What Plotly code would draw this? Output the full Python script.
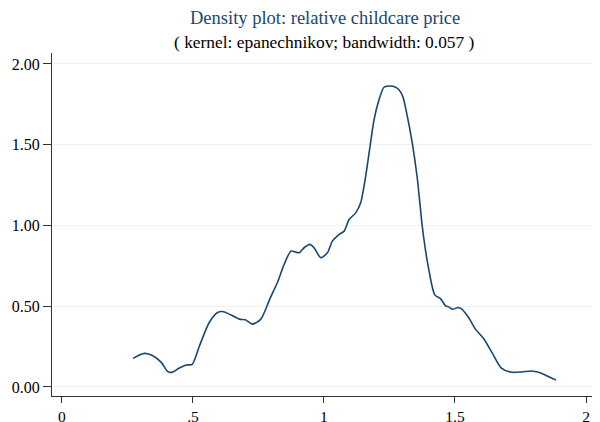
import plotly.graph_objects as go

# Density estimate (x = relative childcare price, y = density)
price = [0.271, 0.315, 0.347, 0.379, 0.404, 0.421, 0.448, 0.474, 0.497, 0.525,
         0.562, 0.594, 0.613, 0.645, 0.677, 0.700, 0.727, 0.759, 0.794, 0.823,
         0.848, 0.874, 0.905, 0.924, 0.946, 0.962, 0.988, 1.013, 1.032, 1.057,
         1.077, 1.096, 1.121, 1.140, 1.159, 1.174, 1.191, 1.210, 1.229, 1.254,
         1.267, 1.286, 1.301, 1.317, 1.337, 1.356, 1.375, 1.387, 1.400, 1.423,
         1.445, 1.464, 1.476, 1.491, 1.512, 1.527, 1.552, 1.578, 1.609, 1.641,
         1.677, 1.717, 1.755, 1.793, 1.819, 1.844, 1.885]
density = [0.177, 0.208, 0.193, 0.152, 0.095, 0.091, 0.117, 0.136, 0.140, 0.255,
           0.399, 0.461, 0.467, 0.446, 0.420, 0.416, 0.389, 0.420, 0.547, 0.650,
           0.759, 0.841, 0.831, 0.862, 0.883, 0.862, 0.800, 0.831, 0.903, 0.944,
           0.965, 1.037, 1.078, 1.140, 1.304, 1.469, 1.654, 1.778, 1.856, 1.864,
           1.860, 1.840, 1.798, 1.685, 1.510, 1.294, 0.996, 0.852, 0.728, 0.570,
           0.547, 0.502, 0.496, 0.481, 0.492, 0.481, 0.430, 0.358, 0.300, 0.214,
           0.117, 0.091, 0.093, 0.099, 0.091, 0.074, 0.043]

x_tick_vals = [0, 0.5, 1, 1.5, 2]
x_tick_text = ["0", ".5", "1", "1.5", "2"]
y_tick_vals = [0, 0.5, 1, 1.5, 2]
y_tick_text = ["0.00", "0.50", "1.00", "1.50", "2.00"]

title_main = "Density plot: relative childcare price"
title_sub = "( kernel: epanechnikov; bandwidth: 0.057 )"

NAVY = "#1a476f"
AXIS = "#333333"
FONT = "Liberation Serif"

fig = go.Figure()
fig.add_trace(go.Scatter(
    x=price, y=density, mode="lines",
    line=dict(color=NAVY, width=1.6, shape="spline", smoothing=0.7),
    hoverinfo="skip", showlegend=False,
))

# page body has an 8px default margin, so the figure is sized to fit the window
fig.update_layout(
    width=592, height=414,
    margin=dict(l=44, r=3, t=45, b=26, pad=0, autoexpand=False),
    paper_bgcolor="white", plot_bgcolor="white",
    font=dict(family=FONT, size=16, color="black"),
    showlegend=False,
    xaxis=dict(
        range=[-0.038, 2.042], tickvals=x_tick_vals, ticktext=x_tick_text,
        showgrid=False, zeroline=False, showline=True, linecolor=AXIS,
        linewidth=1, ticks="outside", ticklen=6, tickcolor=AXIS,
        tickfont=dict(family=FONT, size=15.5, color="black"),
        automargin=False,
    ),
    yaxis=dict(
        range=[-0.056, 2.068], tickvals=y_tick_vals, ticktext=y_tick_text,
        showgrid=True, gridcolor="#eaf2f3", gridwidth=1, zeroline=False,
        showline=True, linecolor=AXIS, linewidth=1,
        ticks="outside", ticklen=8, tickcolor=AXIS,
        tickfont=dict(family=FONT, size=16, color="black"),
        automargin=False,
    ),
    annotations=[
        dict(text=title_main, xref="paper", yref="paper", x=0.5, y=1.102,
             xanchor="center", yanchor="middle", showarrow=False,
             font=dict(family=FONT, size=18.5, color=NAVY)),
        dict(text=title_sub, xref="paper", yref="paper", x=0.5, y=1.032,
             xanchor="center", yanchor="middle", showarrow=False,
             font=dict(family=FONT, size=17.4, color="black")),
    ],
)

fig.write_html("out.html")
